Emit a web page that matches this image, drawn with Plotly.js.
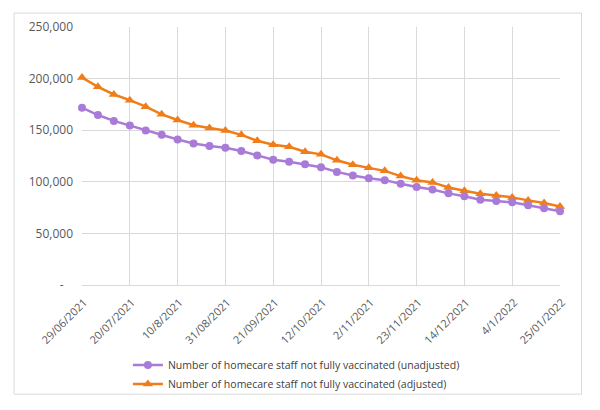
<!DOCTYPE html>
<html>
<head>
<meta charset="utf-8">
<script src="https://cdn.plot.ly/plotly-3.0.1.min.js"></script>
<style>html,body{margin:0;padding:0;background:#fff;}#chart{width:600px;height:410px;}</style>
</head>
<body>
<div id="chart"></div>
<script>
const weeks = ["29/06/2021","6/07/2021","13/07/2021","20/07/2021","27/07/2021","3/08/2021","10/8/2021","17/08/2021","24/08/2021","31/08/2021","7/09/2021","14/09/2021","21/09/2021","28/09/2021","5/10/2021","12/10/2021","19/10/2021","26/10/2021","2/11/2021","9/11/2021","16/11/2021","23/11/2021","30/11/2021","7/12/2021","14/12/2021","21/12/2021","28/12/2021","4/1/2022","11/01/2022","18/01/2022","25/01/2022"];
const unadjusted = [171800,164700,159000,154500,149700,145500,141000,137200,134600,133000,129800,125600,121400,119500,117000,114100,109600,106100,103500,101600,98100,94900,92600,88800,85900,82700,81400,80100,77200,74300,71400];
const adjusted = [201000,192000,184600,179100,172800,165400,159900,154800,152200,149700,145500,139700,135900,133900,129100,126600,120800,116600,113500,110600,105500,101600,99400,94500,91300,88500,86800,84900,82000,79500,76000];
const yTickVals = [0,50000,100000,150000,200000,250000];
const yTickText = ["-\u00a0\u00a0\u00a0","50,000","100,000","150,000","200,000","250,000"];
const nameUnadj = "Number of homecare staff not fully vaccinated (unadjusted)";
const nameAdj = "Number of homecare staff not fully vaccinated (adjusted)";

const xTicks = weeks.filter((w,i)=>i%3===0);

const traces = [
  {x: weeks, y: adjusted, name: nameAdj, type:'scatter', mode:'lines+markers',
   line:{color:'#F07D19', width:2.5}, marker:{symbol:'triangle-up', size:9, color:'#F07D19'}, cliponaxis:false},
  {x: weeks, y: unadjusted, name: nameUnadj, type:'scatter', mode:'lines+markers',
   line:{color:'#A97BD8', width:2.5}, marker:{symbol:'circle', size:8, color:'#A97BD8'}, cliponaxis:false}
];

const layout = {
  width:600, height:410,
  margin:{l:82, r:40, t:27, b:123},
  paper_bgcolor:'#fff', plot_bgcolor:'#fff',
  font:{family:'"Open Sans", Lato, sans-serif', size:11, color:'#595959'},
  showlegend:true,
  legend:{orientation:'v', traceorder:'reversed', x:0.096, xanchor:'left', y:-0.254, yanchor:'top',
    font:{size:10.5, color:'#404040'}, bgcolor:'rgba(0,0,0,0)'},
  xaxis:{type:'category', range:[0,30], tickmode:'array', tickvals:xTicks, ticktext:xTicks,
    tickangle:-45, showgrid:true, gridcolor:'#d9d9d9', gridwidth:1, showline:false, zeroline:false,
    ticks:'', ticklabelstandoff:8, ticklabelshift:2, tickfont:{size:11, color:'#595959'}, fixedrange:true},
  yaxis:{range:[0,250000], tickmode:'array', tickvals:yTickVals, ticktext:yTickText,
    showgrid:true, gridcolor:'#d9d9d9', gridwidth:1, zeroline:true, zerolinecolor:'#d9d9d9', zerolinewidth:1,
    showline:false, ticks:'', ticklabelstandoff:8, tickfont:{size:12, color:'#595959'}, fixedrange:true},
  shapes:[{type:'rect', xref:'paper', yref:'paper', x0:-0.142, x1:1.045, y0:-0.423, y1:1.054,
    line:{color:'#d9d9d9', width:1}, fillcolor:'rgba(0,0,0,0)', layer:'below'}]
};

Plotly.newPlot('chart', traces, layout, {displayModeBar:false, staticPlot:true});
</script>
</body>
</html>
